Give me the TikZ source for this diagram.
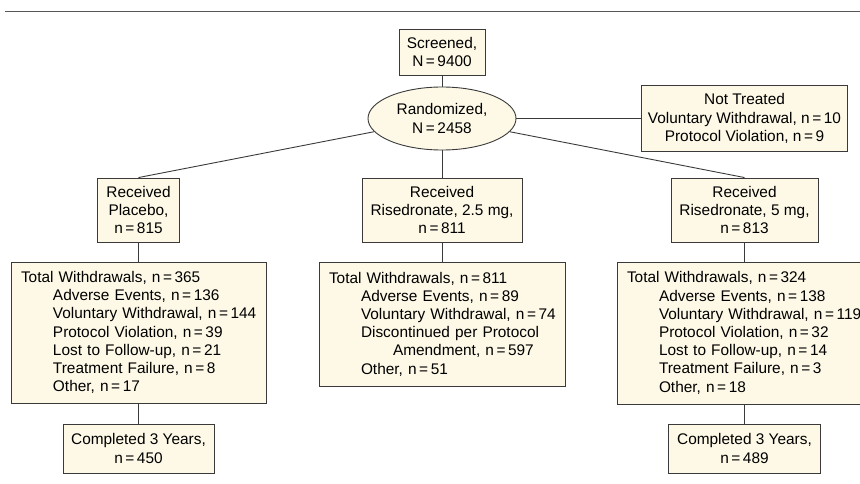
\documentclass[tikz,border=0pt]{standalone}
\usepackage{fontspec}
\setmainfont{Liberation Sans}
\usetikzlibrary{shapes.geometric}
\definecolor{boxfill}{HTML}{FDF9E6}
\definecolor{boxline}{HTML}{3A3A3A}
\newcommand{\inset}[1]{\hspace*{32pt}\mbox{#1}}
\begin{document}
\begin{tikzpicture}[x=1pt,y=-1pt,
        box/.style={draw=boxline,fill=boxfill,line width=0.9pt,inner sep=0pt,align=center,font=\fontsize{15.4}{18.2}\selectfont},
        list/.style={box,align=left,inner xsep=10pt},
        link/.style={draw=boxline,line width=0.9pt}]
                \useasboundingbox (0,0) rectangle (860,484);
                \draw[boxline!85,line width=1pt](5,11.5)--(860,11.5);
                \node[box,minimum width=86pt,minimum height=46pt] (scr) at (442,52) {Screened,\\N\,=\,9400};
                \node[box,ellipse,minimum width=148pt,minimum height=63pt] (rand) at (442,118.5) {Randomized,\\N\,=\,2458};
                \node[box,minimum width=206pt,minimum height=66pt] (nt) at (744.5,118.5) {Not Treated\\Voluntary Withdrawal, n\,=\,10\\Protocol Violation, n\,=\,9};
                \node[box,minimum width=82pt,minimum height=64pt] (plac) at (138.5,210) {Received\\Placebo,\\n\,=\,815};
                \node[box,minimum width=160pt,minimum height=64pt] (r25) at (442,210) {Received\\Risedronate, 2.5 mg,\\n\,=\,811};
                \node[box,minimum width=147pt,minimum height=64pt] (r5) at (744.5,210) {Received\\Risedronate, 5 mg,\\n\,=\,813};
                \node[list,text width=235pt,minimum height=141pt] (wp) at (138.5,332.5) {\mbox{Total Withdrawals, n\,=\,365}\\
                    \inset{Adverse Events, n\,=\,136}\\
                    \inset{Voluntary Withdrawal, n\,=\,144}\\
                    \inset{Protocol Violation, n\,=\,39}\\
                    \inset{Lost to Follow-up, n\,=\,21}\\
                    \inset{Treatment Failure, n\,=\,8}\\
                    \inset{Other, n\,=\,17}};
                \node[list,text width=226pt,minimum height=124pt] (w25) at (442,324) {\mbox{Total Withdrawals, n\,=\,811}\\
                    \inset{Adverse Events, n\,=\,89}\\
                    \inset{Voluntary Withdrawal, n\,=\,74}\\
                    \inset{Discontinued per Protocol}\\
                    \hspace*{32pt}\inset{Amendment, n\,=\,597}\\
                    \inset{Other, n\,=\,51}};
                \node[list,text width=235pt,minimum height=142pt] (w5) at (744.5,333) {\mbox{Total Withdrawals, n\,=\,324}\\
                    \inset{Adverse Events, n\,=\,138}\\
                    \inset{Voluntary Withdrawal, n\,=\,119}\\
                    \inset{Protocol Violation, n\,=\,32}\\
                    \inset{Lost to Follow-up, n\,=\,14}\\
                    \inset{Treatment Failure, n\,=\,3}\\
                    \inset{Other, n\,=\,18}};
                \node[box,minimum width=151pt,minimum height=49pt] (cp) at (138.5,448.5) {Completed 3 Years,\\n\,=\,450};
                \node[box,minimum width=152pt,minimum height=49pt] (c5) at (744.5,448.5) {Completed 3 Years,\\n\,=\,489};
                \draw[link](scr)--(rand);
                \draw[link](rand)--(nt);
                \draw[link](rand)--(plac.north);
                \draw[link](rand)--(r25);
                \draw[link](rand)--(r5.north);
                \draw[link](plac)--(wp);
                \draw[link](r25)--(w25);
                \draw[link](r5)--(w5);
                \draw[link](wp)--(cp);
                \draw[link](w5)--(c5);
            \end{tikzpicture}
\end{document}
